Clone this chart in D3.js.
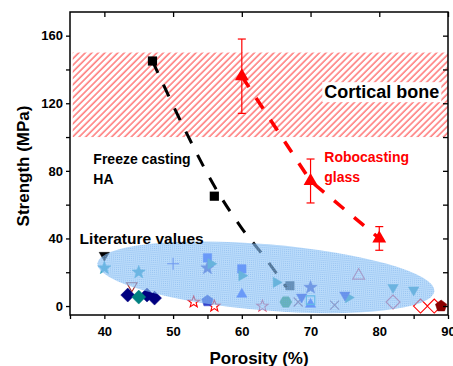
<!DOCTYPE html>
<html>
<head>
<meta charset="utf-8">
<script src="https://cdn.jsdelivr.net/npm/d3@7"></script>
<style>
  body { margin: 0; background: #fff; }
  svg { display: block; font-family: "Liberation Sans", Arial, Helvetica, sans-serif; }
  .tick text { font-weight: bold; font-size: 13px; fill: #000; }
</style>
</head>
<body>
<div id="chart"></div>
<script>
// Freeze casting HA (measured points and the fitted trend)
const freezePorosity = [47, 56];
const freezeStrength = [145, 65];
const freezeFitPorosity = [47, 52, 56, 60, 63.3, 66.5];
const freezeFitStrength = [145, 102, 71, 46, 29, 11];

// Robocasting glass with error bars
const roboPorosity = [60, 70, 80];
const roboStrength = [136, 74, 40];
const roboLow = [114, 61, 33];
const roboHigh = [158, 87, 47];

// Cortical bone band (MPa)
const corticalRange = [100, 150];

// Literature values: one entry per point, grouped by source
const litSource = ['a', 'b', 'b', 'c', 'd', 'e', 'e', 'e', 'f', 'g', 'g', 'h',
  'i', 'i', 'j', 'j', 'k', 'k', 'k', 'k', 'l', 'l', 'm', 'n', 'o', 'p', 'p',
  'q', 'q', 'r', 's', 't', 't', 'u', 'v', 'v', 'w'];
const litPorosity = [40, 40, 45, 50, 44, 43.4, 46.2, 47.3, 45, 53, 56, 55,
  55, 60, 55, 70, 55.5, 60, 65, 75.5, 60, 70, 63, 67, 66.4, 68.2, 73.5,
  68.7, 75, 70, 77, 82, 85, 82, 86, 88, 89];
const litStrength = [30, 22.5, 20, 25, 12, 6.5, 6.5, 4.7, 5.3, 2.4, 0, 3,
  28.5, 22, 22.5, 11, 25, 18, 14, 5, 7, 1, 0, 12, 2.4, 2.4, 0.6,
  5.3, 6.5, 3.5, 18, 11, 9.5, 2.4, 0, 0, 0];

const xTicks = [40, 50, 60, 70, 80, 90];
const yTicks = [0, 40, 80, 120, 160];

const width = 453, height = 366;
const plot = { left: 70, right: 448, top: 12, bottom: 315 };

const x = d3.scaleLinear().domain([35, 90]).range([plot.left, plot.right]);
const y = d3.scaleLinear().domain([-5.3, 174]).range([plot.bottom, plot.top]);

// marker look for each literature source
const markerStyle = {
  a: { shape: 'triDown', color: '#000000', fill: true, r: 6 },
  b: { shape: 'star', color: '#3aa6c4', fill: true, r: 7 },
  c: { shape: 'plus', color: '#4a5ae8', fill: false, r: 6 },
  d: { shape: 'triDown', color: '#a52a2a', fill: false, r: 6 },
  e: { shape: 'diamond', color: '#000080', fill: true, r: 7 },
  f: { shape: 'diamond', color: '#008080', fill: true, r: 7 },
  g: { shape: 'star', color: '#ff0000', fill: false, r: 6 },
  h: { shape: 'pentagon', color: '#3344cc', fill: true, r: 6 },
  i: { shape: 'square', color: '#3355ff', fill: true, r: 6 },
  j: { shape: 'star', color: '#4a55c8', fill: true, r: 7 },
  k: { shape: 'triRight', color: '#2ea0b0', fill: true, r: 6 },
  l: { shape: 'triUp', color: '#3355ff', fill: true, r: 6 },
  m: { shape: 'star', color: '#e0506e', fill: false, r: 6 },
  n: { shape: 'square', color: '#2f3f4f', fill: true, r: 6 },
  o: { shape: 'hexagon', color: '#2e9960', fill: true, r: 6 },
  p: { shape: 'times', color: '#8c5a80', fill: false, r: 6 },
  q: { shape: 'triDown', color: '#3344dd', fill: true, r: 6 },
  r: { shape: 'square', color: '#20b0d0', fill: false, r: 6 },
  s: { shape: 'triUp', color: '#d9607e', fill: false, r: 7 },
  t: { shape: 'triDown', color: '#3a9fba', fill: true, r: 6 },
  u: { shape: 'diamond', color: '#e0506e', fill: false, r: 7 },
  v: { shape: 'diamond', color: '#ff0000', fill: false, r: 7 },
  w: { shape: 'pentagon', color: '#8b0000', fill: true, r: 6 }
};

const closed = d3.line().curve(d3.curveLinearClosed);

function polygon(n, r, rot) {
  const pts = d3.range(n).map(i => {
    const a = rot + i * 2 * Math.PI / n;
    return [r * Math.cos(a), r * Math.sin(a)];
  });
  return closed(pts);
}

function markerPath(shape, r) {
  const deg = Math.PI / 180;
  switch (shape) {
    case 'triUp': return polygon(3, r, -90 * deg);
    case 'triDown': return polygon(3, r, 90 * deg);
    case 'triRight': return polygon(3, r, 0);
    case 'square': return polygon(4, r, 45 * deg);
    case 'diamond': return polygon(4, r, 0);
    case 'pentagon': return polygon(5, r, -90 * deg);
    case 'hexagon': return polygon(6, r, 0);
    case 'star': {
      const pts = d3.range(10).map(i => {
        const a = -Math.PI / 2 + i * Math.PI / 5;
        const rr = i % 2 ? r * 0.42 : r;
        return [rr * Math.cos(a), rr * Math.sin(a)];
      });
      return closed(pts);
    }
    case 'plus': return `M${-r},0H${r}M0,${-r}V${r}`;
    case 'times': {
      const k = r * 0.75;
      return `M${-k},${-k}L${k},${k}M${-k},${k}L${k},${-k}`;
    }
  }
}

const svg = d3.select('#chart').append('svg')
  .attr('width', width)
  .attr('height', height);

svg.append('rect').attr('width', width).attr('height', height).attr('fill', '#fff');

const defs = svg.append('defs');

// red diagonal hatch for cortical bone
const hatch = defs.append('pattern')
  .attr('id', 'hatch')
  .attr('patternUnits', 'userSpaceOnUse')
  .attr('width', 4.6).attr('height', 4.6)
  .attr('patternTransform', 'rotate(45)');
hatch.append('line')
  .attr('x1', 1).attr('y1', 0).attr('x2', 1).attr('y2', 4.6)
  .attr('stroke', '#ff1a1a').attr('stroke-width', 0.9);

// dotted light blue fill for the literature region
const dots = defs.append('pattern')
  .attr('id', 'dots')
  .attr('patternUnits', 'userSpaceOnUse')
  .attr('width', 2).attr('height', 2);
dots.append('rect').attr('width', 2).attr('height', 2).attr('fill', 'rgba(140,195,246,0.6)');
dots.append('rect').attr('width', 1).attr('height', 1).attr('fill', 'rgba(110,168,232,0.5)');

// cortical bone band
svg.append('rect')
  .attr('x', x(35.4))
  .attr('width', x(90) - x(35.4))
  .attr('y', y(corticalRange[1]))
  .attr('height', y(corticalRange[0]) - y(corticalRange[1]))
  .attr('fill', 'url(#hatch)');

const cortical = svg.append('g');
const cortText = cortical.append('text')
  .attr('x', x(72)).attr('y', y(123))
  .attr('font-size', 18).attr('font-weight', 'bold')
  .text('Cortical bone');
const bb = cortText.node().getBBox();
cortical.insert('rect', 'text')
  .attr('x', bb.x - 2).attr('y', bb.y)
  .attr('width', bb.width + 4).attr('height', bb.height)
  .attr('fill', '#fff');

// literature markers
const lit = litSource.map((s, i) => ({ src: s, p: litPorosity[i], s: litStrength[i] }));
svg.append('g')
  .selectAll('path')
  .data(lit)
  .join('path')
  .attr('transform', d => `translate(${x(d.p)},${y(d.s)})`)
  .attr('d', d => markerPath(markerStyle[d.src].shape, markerStyle[d.src].r))
  .attr('fill', d => markerStyle[d.src].fill ? markerStyle[d.src].color : 'none')
  .attr('stroke', d => markerStyle[d.src].color)
  .attr('stroke-width', d => markerStyle[d.src].fill ? 0.5 : 1.1);

// freeze casting trend and points
const line = d3.line().x(d => x(d[0])).y(d => y(d[1]));
svg.append('path')
  .datum(freezeFitPorosity.map((p, i) => [p, freezeFitStrength[i]]))
  .attr('d', line.curve(d3.curveMonotoneX))
  .attr('fill', 'none')
  .attr('stroke', '#000')
  .attr('stroke-width', 3)
  .attr('stroke-dasharray', '13,13');

svg.append('g')
  .selectAll('path')
  .data(freezePorosity.map((p, i) => [p, freezeStrength[i]]))
  .join('path')
  .attr('transform', d => `translate(${x(d[0])},${y(d[1])})`)
  .attr('d', markerPath('square', 6.5))
  .attr('fill', '#000');

// literature region on top (semi transparent)
const litCenter = [63.5, 17];
const litRx = x(63.5 + 24.6) - x(63.5);
const litRy = y(0) - y(19.6);
svg.append('ellipse')
  .attr('transform', `translate(${x(litCenter[0])},${y(litCenter[1])}) rotate(4.75)`)
  .attr('rx', litRx).attr('ry', litRy)
  .attr('fill', 'url(#dots)');

// robocasting glass
const robo = roboPorosity.map((p, i) => ({ p, s: roboStrength[i], lo: roboLow[i], hi: roboHigh[i] }));
svg.append('path')
  .datum(robo.map(d => [d.p, d.s]))
  .attr('d', d3.line().x(d => x(d[0])).y(d => y(d[1])))
  .attr('fill', 'none')
  .attr('stroke', '#ff0000')
  .attr('stroke-width', 3.5)
  .attr('stroke-dasharray', '13,13');

const err = svg.append('g').attr('stroke', '#ff0000').attr('stroke-width', 1.2);
robo.forEach(d => {
  err.append('line').attr('x1', x(d.p)).attr('x2', x(d.p)).attr('y1', y(d.lo)).attr('y2', y(d.hi));
  err.append('line').attr('x1', x(d.p) - 4).attr('x2', x(d.p) + 4).attr('y1', y(d.lo)).attr('y2', y(d.lo));
  err.append('line').attr('x1', x(d.p) - 4).attr('x2', x(d.p) + 4).attr('y1', y(d.hi)).attr('y2', y(d.hi));
});

svg.append('g')
  .selectAll('path')
  .data(robo)
  .join('path')
  .attr('transform', d => `translate(${x(d.p)},${y(d.s)})`)
  .attr('d', markerPath('triUp', 8))
  .attr('fill', '#ff0000');

// annotations
const ann = svg.append('g').attr('font-weight', 'bold');
ann.append('text').attr('x', x(38.4)).attr('y', y(84)).attr('font-size', 14).text('Freeze casting');
ann.append('text').attr('x', x(38.4)).attr('y', y(72)).attr('font-size', 14).text('HA');
ann.append('text').attr('x', x(72)).attr('y', y(85)).attr('font-size', 14).attr('fill', '#ff0000').text('Robocasting');
ann.append('text').attr('x', x(72)).attr('y', y(73.5)).attr('font-size', 14).attr('fill', '#ff0000').text('glass');
ann.append('text').attr('x', x(36.4)).attr('y', y(37)).attr('font-size', 15.5).text('Literature values');

// axes
const xAxis = d3.axisBottom(x)
  .tickValues(d3.range(35, 91, 5))
  .tickSize(4).tickSizeOuter(0).tickPadding(8)
  .tickFormat(d => xTicks.includes(d) ? d : '');
const yAxis = d3.axisLeft(y)
  .tickValues(d3.range(0, 171, 20))
  .tickSize(4).tickSizeOuter(0).tickPadding(3)
  .tickFormat(d => yTicks.includes(d) ? d : '');

svg.append('g').attr('transform', `translate(0,${plot.bottom})`).call(xAxis);
svg.append('g').attr('transform', `translate(${plot.left},0)`).call(yAxis);
svg.append('g').attr('transform', `translate(0,${plot.top})`)
  .call(d3.axisBottom(x).tickValues(xTicks).tickSize(5).tickSizeOuter(0).tickFormat(''));
svg.append('g').attr('transform', `translate(${plot.right},0)`)
  .call(d3.axisLeft(y).tickValues(d3.range(0, 171, 20)).tickSize(5).tickSizeOuter(0).tickFormat(''));

svg.selectAll('.domain').remove();
svg.selectAll('.tick line').attr('stroke', '#000').attr('stroke-width', 1.3);

svg.append('rect')
  .attr('x', plot.left).attr('y', plot.top)
  .attr('width', plot.right - plot.left).attr('height', plot.bottom - plot.top)
  .attr('fill', 'none').attr('stroke', '#000').attr('stroke-width', 1.5);

svg.append('text')
  .attr('x', (plot.left + plot.right) / 2).attr('y', 364)
  .attr('text-anchor', 'middle')
  .attr('font-size', 17).attr('font-weight', 'bold')
  .text('Porosity (%)');

svg.append('text')
  .attr('transform', `translate(29,${166}) rotate(-90)`)
  .attr('text-anchor', 'middle')
  .attr('font-size', 17).attr('font-weight', 'bold')
  .text('Strength (MPa)');
</script>
</body>
</html>
